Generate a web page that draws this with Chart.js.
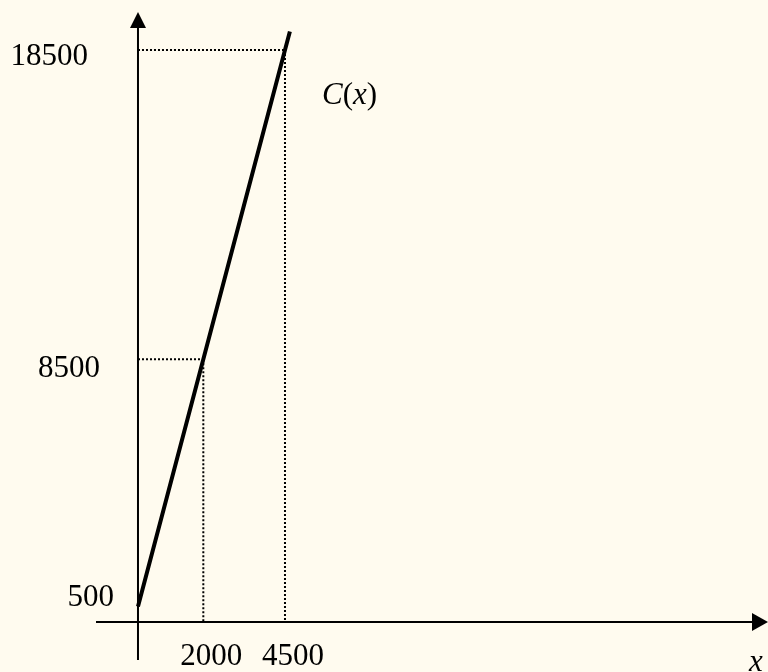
<!DOCTYPE html>
<html>
<head>
<meta charset="utf-8">
<script src="https://cdn.jsdelivr.net/npm/chart.js@4"></script>
<style>
  body { margin: 0; background: #FFFBEF; }
  #wrap { width: 768px; height: 672px; }
</style>
</head>
<body>
<div id="wrap"><canvas id="myChart"></canvas></div>
<script>
// C(x) = 500 + 4x
const xValues = [0, 2000, 4500, 4650];
const costValues = [500, 8500, 18500, 19100];
const yTickLabels = [500, 8500, 18500];
const xTickLabels = [2000, 4500];
const curveLabel = 'C(x)';
const xAxisLabel = 'x';

const FONT = '31px "Liberation Serif", "Times New Roman", serif';
const FONT_I = 'italic 31px "Liberation Serif", "Times New Roman", serif';

const sketch = {
  id: 'sketch',
  beforeDraw(chart) {
    const c = chart.ctx;
    c.save();
    c.fillStyle = '#FFFBEF';
    c.fillRect(0, 0, chart.width, chart.height);
    c.restore();
  },
  beforeDatasetsDraw(chart) {
    const c = chart.ctx;
    const xs = chart.scales.x, ys = chart.scales.y;
    const x0 = xs.getPixelForValue(0), y0 = ys.getPixelForValue(0);

    // dotted guides to the marked points
    c.save();
    c.strokeStyle = '#000';
    c.lineWidth = 2;
    c.setLineDash([2, 2]);
    xTickLabels.forEach(v => {
      const i = xValues.indexOf(v);
      const px = xs.getPixelForValue(v), py = ys.getPixelForValue(costValues[i]);
      c.beginPath();
      c.moveTo(x0, py); c.lineTo(px, py);
      c.moveTo(px, py); c.lineTo(px, y0);
      c.stroke();
    });
    c.restore();

    // axes
    c.save();
    c.strokeStyle = '#000';
    c.fillStyle = '#000';
    c.lineWidth = 2;
    c.beginPath();
    c.moveTo(x0, 660); c.lineTo(x0, 20);
    c.moveTo(96, y0); c.lineTo(760, y0);
    c.stroke();
    c.beginPath();
    c.moveTo(x0, 12); c.lineTo(x0 - 8, 28); c.lineTo(x0 + 8, 28); c.closePath();
    c.fill();
    c.beginPath();
    c.moveTo(768, y0); c.lineTo(752, y0 - 9); c.lineTo(752, y0 + 9); c.closePath();
    c.fill();
    c.restore();
  },
  afterDraw(chart) {
    const c = chart.ctx;
    const xs = chart.scales.x, ys = chart.scales.y;
    c.save();
    c.fillStyle = '#000';
    c.font = FONT;
    c.textBaseline = 'middle';

    c.textAlign = 'right';
    yTickLabels.forEach(v => {
      const py = ys.getPixelForValue(v);
      if (v < 1000) c.fillText(String(v), 114, py - 9);
      else if (v < 10000) c.fillText(String(v), 100, py + 10);
      else c.fillText(String(v), 88, py + 7);
    });

    c.textAlign = 'center';
    xTickLabels.forEach(v => {
      c.fillText(String(v), xs.getPixelForValue(v) + 8, 657);
    });

    c.font = FONT_I;
    c.fillText(xAxisLabel, 756, 663);

    // C(x) with upright parentheses
    c.textAlign = 'left';
    let lx = 322;
    const ly = 96;
    for (const ch of curveLabel) {
      c.font = (ch === '(' || ch === ')') ? FONT : FONT_I;
      c.fillText(ch, lx, ly);
      lx += c.measureText(ch).width;
    }
    c.restore();
  }
};

const ctx = document.getElementById('myChart');
new Chart(ctx, {
  type: 'scatter',
  data: {
    datasets: [{
      data: xValues.map((x, i) => ({ x: x, y: costValues[i] })),
      showLine: true,
      borderColor: '#000',
      borderWidth: 4,
      borderCapStyle: 'butt',
      pointRadius: 0,
      fill: false
    }]
  },
  options: {
    responsive: true,
    maintainAspectRatio: false,
    animation: false,
    layout: { padding: 0 },
    plugins: { legend: { display: false }, tooltip: { enabled: false } },
    scales: {
      x: { type: 'linear', display: false, min: -4224, max: 19286 },
      y: { type: 'linear', display: false, min: -1617, max: 20117 }
    }
  },
  plugins: [sketch]
});
</script>
</body>
</html>
